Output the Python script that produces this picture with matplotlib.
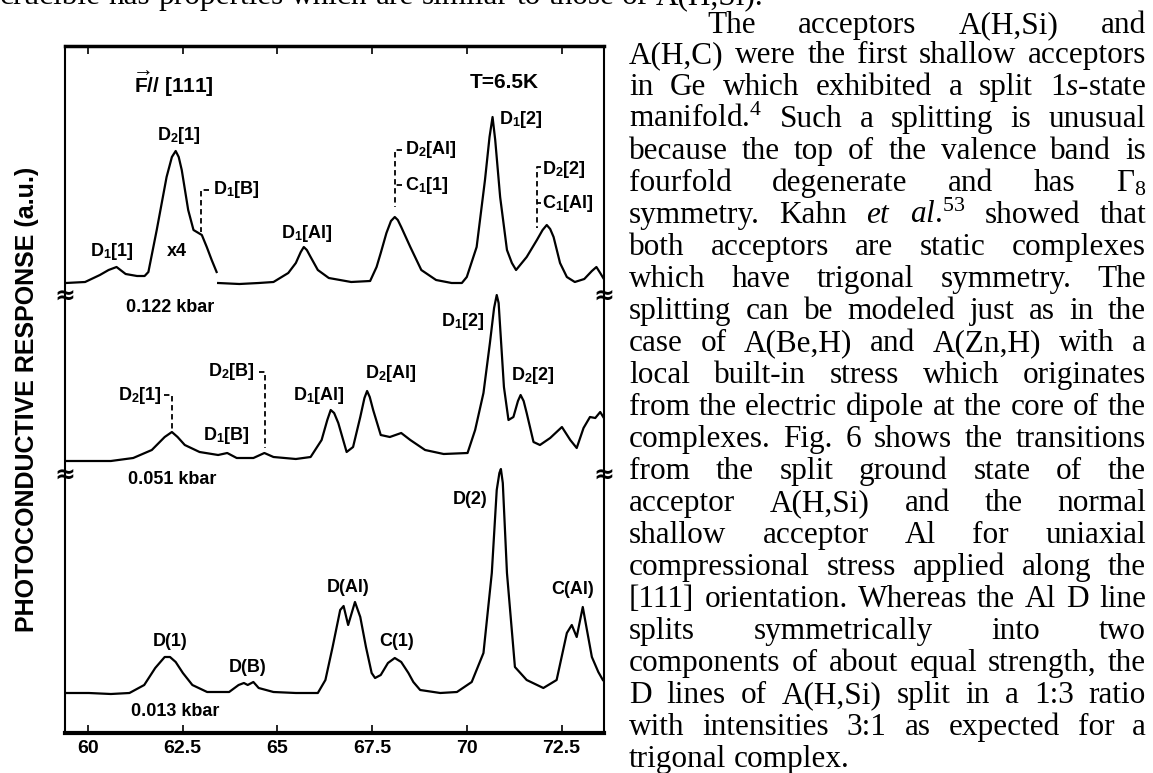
import matplotlib
matplotlib.use("Agg")
import matplotlib.pyplot as plt

plt.rcParams["font.family"] = ["Liberation Sans", "DejaVu Sans"]
plt.rcParams["mathtext.fontset"] = "custom"
plt.rcParams["mathtext.rm"] = "Liberation Serif"
plt.rcParams["mathtext.it"] = "Liberation Serif:italic"
plt.rcParams["mathtext.bf"] = "Liberation Sans:bold"

# photon energy (meV) / photoconductive response (a.u., offset traces)
# 0.122 kbar, left part incl. the x4 section
top_x4_e = [59.42, 59.93, 60.32, 60.55, 60.76, 61.00, 61.30, 61.50, 61.60, 61.82, 62.08, 62.22,
            62.32, 62.40, 62.48, 62.65, 62.79, 63.01, 63.14, 63.27, 63.40]
top_x4_r = [450, 451, 458, 463, 466, 459, 457, 457, 461, 503, 556, 576,
            582, 576, 563, 523, 503, 498, 486, 473, 461]
# 0.122 kbar, rest
top_e = [63.44, 64.00, 64.51, 64.90, 65.29, 65.49, 65.62, 65.70, 65.78, 65.88, 66.07, 66.36,
         66.95, 67.45, 67.62, 67.73, 67.88, 68.00, 68.10, 68.18, 68.27, 68.51, 68.80, 69.19,
         69.60, 69.87, 70.00, 70.26, 70.48, 70.60, 70.68, 70.75, 70.88, 71.06, 71.19, 71.30,
         71.58, 71.85, 72.00, 72.11, 72.20, 72.29, 72.46, 72.64, 72.85, 73.10, 73.30, 73.42,
         73.52, 73.60]
top_r = [450, 449, 450, 451, 460, 470, 481, 486, 483, 476, 463, 455,
         451, 452, 466, 480, 500, 512, 516, 513, 506, 486, 463, 453,
         450, 450, 456, 486, 553, 596, 616, 593, 536, 483, 470, 463,
         476, 493, 503, 508, 504, 496, 470, 456, 451, 454, 462, 466,
         460, 455]
# 0.051 kbar
mid_e = [59.42, 60.61, 61.20, 61.69, 62.03, 62.22, 62.37, 62.56, 62.95, 63.44, 63.68, 63.93,
         64.37, 64.66, 64.90, 65.49, 65.88, 66.17, 66.32, 66.41, 66.50, 66.61, 66.83, 67.00,
         67.19, 67.30, 67.37, 67.44, 67.53, 67.73, 67.97, 68.27, 68.51, 68.90, 69.39, 70.02,
         70.22, 70.44, 70.61, 70.72, 70.79, 70.84, 70.88, 70.98, 71.10, 71.23, 71.35, 71.42,
         71.50, 71.58, 71.76, 71.93, 72.20, 72.51, 72.73, 72.90, 73.08, 73.25, 73.39, 73.52,
         73.60]
mid_r = [272, 272, 275, 283, 296, 301, 296, 288, 281, 278, 280, 275,
         275, 280, 276, 274, 276, 293, 313, 323, 320, 310, 281, 286,
         316, 335, 342, 336, 323, 298, 296, 300, 293, 283, 279, 280,
         303, 340, 390, 425, 438, 430, 406, 346, 313, 316, 332, 338,
         332, 320, 291, 288, 295, 306, 293, 285, 305, 316, 315, 321,
         316]
# 0.013 kbar
bot_e = [59.42, 60.03, 60.61, 61.10, 61.49, 61.78, 62.03, 62.17, 62.32, 62.51, 62.76, 63.15,
         63.73, 63.98, 64.12, 64.22, 64.37, 64.51, 64.90, 65.49, 66.07, 66.27, 66.46, 66.66,
         66.75, 66.87, 67.05, 67.19, 67.34, 67.49, 67.58, 67.73, 67.92, 68.10, 68.27, 68.46,
         68.59, 68.77, 69.30, 69.74, 70.13, 70.44, 70.66, 70.79, 70.86, 70.90, 70.95, 71.06,
         71.27, 71.58, 72.02, 72.37, 72.64, 72.77, 72.90, 73.06, 73.17, 73.30, 73.47, 73.59]
bot_r = [40, 40, 39, 40, 48, 65, 76, 76, 71, 60, 48, 41,
         41, 48, 50, 48, 51, 45, 41, 40, 40, 53, 86, 123,
         127, 108, 131, 116, 86, 60, 55, 58, 70, 75, 71, 60,
         51, 43, 40, 41, 51, 80, 160, 243, 260, 264, 250, 160,
         66, 53, 45, 53, 100, 108, 96, 126, 103, 76, 61, 53]

xticks = [60, 62.5, 65, 67.5, 70, 72.5]
xtick_labels = ["60", "62.5", "65", "67.5", "70", "72.5"]

# peak labels: text, energy, response, alignment, size
labels = [
    (r"$\overrightarrow{\mathbf{F}}$// [111]", 62.28, 649, "center", 15),
    ("T=6.5K", 70.99, 651, "center", 15),
    (r"D$_{\mathbf{2}}$[1]", 62.41, 597, "center", 13),
    (r"D$_{\mathbf{1}}$[1]", 60.64, 482, "center", 13),
    ("x4", 62.36, 482, "center", 13),
    (r"D$_{\mathbf{1}}$[B]", 63.30, 543, "left", 13),
    (r"D$_{\mathbf{1}}$[Al]", 65.79, 500, "center", 13),
    (r"D$_{\mathbf{2}}$[Al]", 68.36, 583, "left", 13),
    (r"C$_{\mathbf{1}}$[1]", 68.36, 548, "left", 13),
    (r"D$_{\mathbf{1}}$[2]", 70.86, 613, "left", 13),
    (r"D$_{\mathbf{2}}$[2]", 71.98, 564, "left", 13),
    (r"C$_{\mathbf{1}}$[Al]", 71.98, 530, "left", 13),
    ("0.122 kbar", 62.18, 426, "center", 13),
    (r"D$_{\mathbf{1}}$[2]", 69.90, 412, "center", 13),
    (r"D$_{\mathbf{2}}$[2]", 71.75, 357, "center", 13),
    (r"D$_{\mathbf{2}}$[1]", 61.38, 338, "center", 13),
    (r"D$_{\mathbf{2}}$[B]", 63.79, 361, "center", 13),
    (r"D$_{\mathbf{1}}$[B]", 63.65, 298, "center", 13),
    (r"D$_{\mathbf{1}}$[Al]", 66.10, 338, "center", 13),
    (r"D$_{\mathbf{2}}$[Al]", 68.00, 359, "center", 13),
    ("0.051 kbar", 62.23, 253, "center", 13),
    ("D(1)", 62.17, 92, "center", 13),
    ("D(B)", 64.21, 66, "center", 13),
    ("D(Al)", 66.87, 146, "center", 13),
    ("C(1)", 68.14, 92, "center", 13),
    ("D(2)", 70.09, 234, "center", 13),
    ("C(Al)", 72.78, 143, "center", 13),
    ("0.013 kbar", 62.31, 21, "center", 13),
]

# dashed leader brackets as polylines
brackets = [
    ([63.20, 62.99, 62.99], [543, 543, 501]),
    ([68.30, 68.11, 68.11], [583, 583, 526]),
    ([68.30, 68.11], [548, 548]),
    ([71.97, 71.86, 71.86], [566, 566, 505]),
    ([71.97, 71.86], [530, 530]),
    ([62.00, 62.22, 62.22], [338, 338, 303]),
    ([64.52, 64.68, 64.68], [361, 361, 285]),
]

body_lines = [
    "A(H,C) were the first shallow acceptors",
    r"in Ge which exhibited a split 1$\mathit{s}$-state",
    r"manifold.$^{4}$ Such a splitting is unusual",
    "because the top of the valence band is",
    r"fourfold degenerate and has $\Gamma_{8}$",
    r"symmetry. Kahn $\mathit{et}$ $\mathit{al}$.$^{53}$ showed that",
    "both acceptors are static complexes",
    "which have trigonal symmetry. The",
    "splitting can be modeled just as in the",
    "case of A(Be,H) and A(Zn,H) with a",
    "local built-in stress which originates",
    "from the electric dipole at the core of the",
    "complexes. Fig. 6 shows the transitions",
    "from the split ground state of the",
    "acceptor A(H,Si) and the normal",
    "shallow acceptor Al for uniaxial",
    "compressional stress applied along the",
    "[111] orientation. Whereas the Al D line",
    "splits symmetrically into two",
    "components of about equal strength, the",
    "D lines of A(H,Si) split in a 1:3 ratio",
    "with intensities 3:1 as expected for a",
]
first_line = "crucible has properties which are similar to those of A(H,Si)."
indent_line = "The acceptors A(H,Si) and"
last_line = "trigonal complex."

W, H = 1153, 773
fig = plt.figure(figsize=(W / 100, H / 100), dpi=100)
ax = fig.add_axes([65 / W, 40 / H, 539 / W, 687 / H])

for e, r in [(top_x4_e, top_x4_r), (top_e, top_r), (mid_e, mid_r), (bot_e, bot_r)]:
    ax.plot(e, r, color="black", lw=1.6, solid_joinstyle="round")

for bx, by in brackets:
    ax.plot(bx, by, color="black", lw=1.3, ls=(0, (3, 2)))

for txt, x, y, ha, fs in labels:
    ax.text(x, y, txt, fontsize=fs, fontweight="bold", ha=ha, va="center")

ax.set_xlim(59.40, 73.62)
ax.set_ylim(0, 687)
ax.set_yticks([])
ax.set_xticks(xticks)
ax.set_xticklabels(xtick_labels, fontsize=14, fontweight="bold")
ax.tick_params(axis="x", direction="in", top=True, length=6, width=1.2, pad=5)
ax.spines["left"].set_linewidth(1.5)
ax.spines["right"].set_linewidth(1.5)
ax.spines["top"].set_linewidth(2.5)
ax.spines["bottom"].set_linewidth(3.0)

# axis breaks
for yb in (436, 257):
    for xb in (0, 1):
        ax.text(xb, yb, "≈", transform=ax.get_yaxis_transform(), fontsize=18,
                fontweight="bold", ha="center", va="center", clip_on=False,
                family="DejaVu Sans")

fig.text(27 / W, 1 - 399 / H, "PHOTOCONDUCTIVE RESPONSE (a.u.)", rotation=90,
         fontsize=18, fontweight="bold", ha="center", va="center")

# running text of the page, justified
renderer = fig.canvas.get_renderer()
body_fs = 22.5


def put_line(line, x0, x1, base, justify=True):
    words = line.split(" ")
    ts = [fig.text(0, 1 - base / H, w, fontsize=body_fs, family="Liberation Serif",
                   va="baseline", ha="left") for w in words]
    widths = [t.get_window_extent(renderer=renderer).width for t in ts]
    if justify and len(words) > 1:
        gap = (x1 - x0 - sum(widths)) / (len(words) - 1)
    else:
        gap = body_fs * 0.25 * 100 / 72
    x = x0
    for t, w in zip(ts, widths):
        t.set_x(x / W)
        x += w + gap


put_line(first_line, 0, 0, 4, justify=False)
put_line(indent_line, 707, 1146, 33)
for i, line in enumerate(body_lines):
    put_line(line, 629, 1146, 63 + 32 * i)
put_line(last_line, 629, 1146, 63 + 32 * len(body_lines), justify=False)

fig.savefig("out.png", dpi=100)
